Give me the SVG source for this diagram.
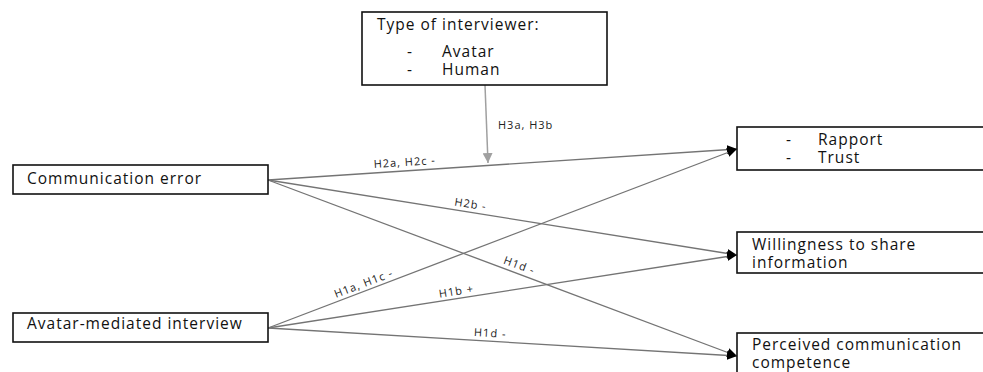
<svg xmlns="http://www.w3.org/2000/svg" width="983" height="372" viewBox="0 0 983 372">
<defs>
<style>
.box{fill:#fff;stroke:#111;stroke-width:1.6}
.t{font-family:"Open Sans","Liberation Sans",sans-serif;font-size:15.5px;fill:#111;letter-spacing:1px}
.lbl{font-family:"Open Sans","Liberation Sans",sans-serif;font-size:11px;fill:#222;letter-spacing:1px}
.c{fill:none;stroke:#747474;stroke-width:1.3}
.m{fill:none;stroke:#a0a0a0;stroke-width:1.5}
</style>
<marker id="ah" viewBox="0 0 10 10" refX="10" refY="5" markerWidth="10" markerHeight="9" markerUnits="userSpaceOnUse" orient="auto" preserveAspectRatio="none">
<path d="M0,0 L10,5 L0,10 z" fill="#000"/>
</marker>
<marker id="gh" viewBox="0 0 10 10" refX="10" refY="5" markerWidth="10" markerHeight="10" markerUnits="userSpaceOnUse" orient="auto">
<path d="M0,0 L10,5 L0,10 z" fill="#a0a0a0"/>
</marker>
</defs>
<rect width="983" height="372" fill="#fff"/>
<g id="connectors">
<path class="m" d="M485,85 L488,163" marker-end="url(#gh)"/>
<path class="c" d="M268,180 L737,149" marker-end="url(#ah)"/>
<path class="c" d="M268,180 L737,255" marker-end="url(#ah)"/>
<path class="c" d="M268,180 L737,356" marker-end="url(#ah)"/>
<path class="c" d="M268,328 L737,149" marker-end="url(#ah)"/>
<path class="c" d="M268,328 L737,255" marker-end="url(#ah)"/>
<path class="c" d="M268,328 L737,356" marker-end="url(#ah)"/>
<text class="lbl" x="498" y="129">H3a, H3b</text>
<text class="lbl" x="405" y="166" text-anchor="middle" transform="rotate(-3.8 405 166)">H2a, H2c -</text>
<text class="lbl" x="470" y="208" text-anchor="middle" transform="rotate(9.1 470 208)">H2b -</text>
<text class="lbl" x="518" y="269" text-anchor="middle" transform="rotate(20.6 518 269)">H1d -</text>
<text class="lbl" x="365" y="287" text-anchor="middle" transform="rotate(-20.9 365 287)">H1a, H1c -</text>
<text class="lbl" x="457" y="295" text-anchor="middle" transform="rotate(-8.7 457 295)">H1b +</text>
<text class="lbl" x="490" y="337" text-anchor="middle" transform="rotate(3.4 490 337)">H1d -</text>
</g>
<g id="type-of-interviewer">
<rect class="box" x="362" y="12" width="245" height="73"/>
<text class="t" x="377" y="30">Type of interviewer:</text>
<text class="t" x="407" y="57">-</text>
<text class="t" x="442" y="57">Avatar</text>
<text class="t" x="407" y="75">-</text>
<text class="t" x="442" y="75">Human</text>
</g>
<g id="communication-error">
<rect class="box" x="13" y="165" width="255" height="29"/>
<text class="t" x="27" y="184">Communication error</text>
</g>
<g id="avatar-mediated-interview">
<rect class="box" x="13" y="313" width="255" height="29"/>
<text class="t" x="27" y="329">Avatar-mediated interview</text>
</g>
<g id="rapport-trust">
<rect class="box" x="737" y="127" width="260" height="43"/>
<text class="t" x="786" y="145">-</text>
<text class="t" x="818" y="145">Rapport</text>
<text class="t" x="786" y="163">-</text>
<text class="t" x="818" y="163">Trust</text>
</g>
<g id="willingness">
<rect class="box" x="737" y="232" width="260" height="41"/>
<text class="t" x="752" y="250">Willingness to share</text>
<text class="t" x="752" y="268">information</text>
</g>
<g id="perceived-competence">
<rect class="box" x="737" y="333" width="260" height="50"/>
<text class="t" x="752" y="350">Perceived communication</text>
<text class="t" x="752" y="368">competence</text>
</g>
</svg>
